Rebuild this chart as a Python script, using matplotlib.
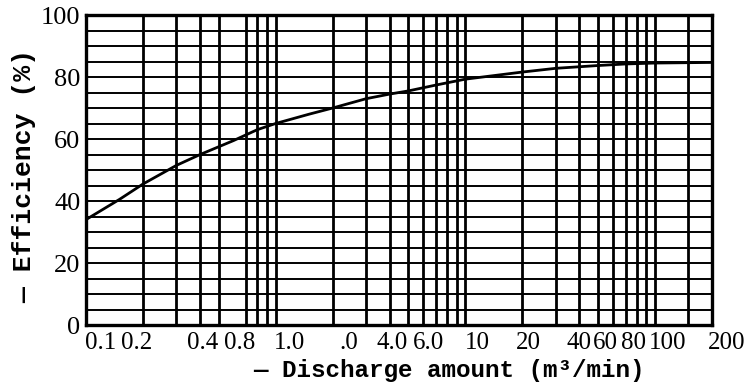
import numpy as np
import matplotlib
matplotlib.use('Agg')
import matplotlib.pyplot as plt
import matplotlib.transforms as mtransforms

# curve
discharge = [0.1, 0.15, 0.2, 0.3, 0.4, 0.6, 0.8, 1.0, 1.5, 2, 3, 4, 5, 7,
             10, 20, 30, 50, 70, 100, 200]
efficiency = [34, 40.5, 45.5, 51.5, 55, 59.5, 63, 65, 68, 70, 73, 74.5, 75.5,
              77.4, 79.3, 81.6, 82.8, 83.7, 84.2, 84.5, 84.7]

x_ticks = [0.1, 0.2, 0.4, 0.8, 1, 2, 4, 6, 10, 20, 40, 60, 80, 100, 200]
x_labels = ["0.1", "0.2", "0.4", "0.8", "1.0", ".0", "4.0", "6.0", "10",
            "20", "40", "60", "80", "100", "200"]
x_grid = [0.3, 0.5, 0.7, 0.9, 3, 5, 7, 8, 9, 30, 50, 70, 90, 150]
y_ticks = [0, 20, 40, 60, 80, 100]
y_grid = [5, 10, 15, 25, 30, 35, 45, 50, 55, 65, 70, 75, 85, 90, 95]

# label nudges (pixels) to mimic the crowded printed labels
label_shift = [15, -6, 2, -18, 14, 16, 2, 5, 12, 6, 0, -7, -3, 13, 15]

fig = plt.figure(figsize=(7.53, 3.9), dpi=100)
ax = fig.add_axes([86/753, 1 - 325/390, 626/753, 310/390])

ax.set_xscale('log')
ax.set_xlim(0.1, 200)
ax.set_ylim(0, 100)

ax.set_xticks(x_ticks)
ax.set_xticklabels(x_labels)
ax.set_xticks(x_grid, minor=True)
ax.xaxis.set_minor_formatter(plt.NullFormatter())
ax.set_yticks(y_ticks)
ax.set_yticks(y_grid, minor=True)

ax.grid(True, which='both', axis='x', color='black', lw=2.0)
ax.grid(True, which='both', axis='y', color='black', lw=1.4)
ax.set_axisbelow(True)

ax.plot(discharge, efficiency, color='black', lw=2.0, zorder=5)

for s in ax.spines.values():
  s.set_linewidth(2.4)

ax.tick_params(which='both', length=0)
ax.tick_params(axis='x', pad=5)
ax.tick_params(axis='y', pad=4)
for lab in ax.get_xticklabels():
  lab.set_fontfamily('Liberation Serif')
  lab.set_fontsize(18)
for lab in ax.get_yticklabels():
  lab.set_fontfamily('Liberation Serif')
  lab.set_fontsize(19)

for lab, dx in zip(ax.get_xticklabels(), label_shift):
  off = mtransforms.ScaledTranslation(dx / 100, 0, fig.dpi_scale_trans)
  lab.set_transform(lab.get_transform() + off)

ax.set_xlabel("\u2014 Discharge amount (m\u00b3/min)", family='Liberation Mono',
              fontsize=17.5, fontweight='bold')
ax.xaxis.set_label_coords(0.58, -0.11)
ax.set_ylabel("\u2014 Efficiency (%)", family='Liberation Mono',
              fontsize=19, fontweight='bold')
ax.yaxis.set_label_coords(-0.08, 0.48)

fig.savefig('out.png', dpi=100)
